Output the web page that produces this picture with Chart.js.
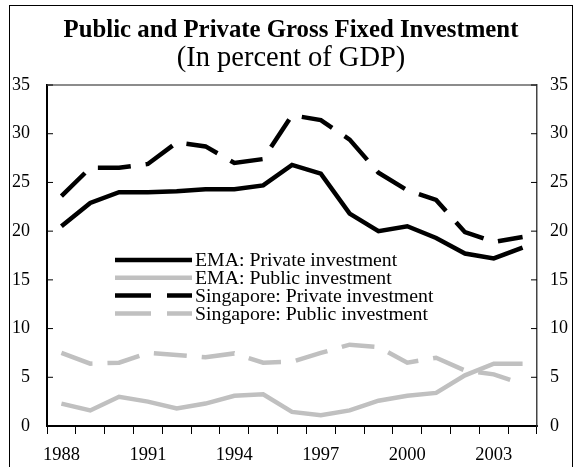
<!DOCTYPE html>
<html><head><meta charset="utf-8">
<script src="https://cdn.jsdelivr.net/npm/chart.js@4.4.0/dist/chart.umd.min.js"></script>
<style>
html,body{margin:0;padding:0;background:#fff;overflow:hidden}
#wrap{position:relative;width:582px;height:467px;overflow:hidden}
#frame{position:absolute;left:9px;top:5px;width:564px;height:520px;border:1.5px solid #000;box-sizing:border-box}
canvas{position:absolute;left:0;top:0}
</style></head><body>
<div id="wrap"><div id="frame"></div><canvas id="c" width="582" height="467"></canvas></div>
<script>
const years = ['1988','1989','1990','1991','1992','1993','1994','1995','1996','1997','1998','1999','2000','2001','2002','2003','2004'];
const emaPrivate = [20.5, 22.9, 24.0, 24.0, 24.1, 24.3, 24.3, 24.7, 26.8, 25.9, 21.8, 20.0, 20.5, 19.3, 17.7, 17.2, 18.3];
const emaPublic  = [2.3, 1.6, 3.0, 2.5, 1.8, 2.3, 3.1, 3.25, 1.45, 1.1, 1.6, 2.6, 3.1, 3.4, 5.2, 6.4, 6.4];
const sgPrivate  = [23.6, 26.5, 26.5, 26.9, 29.1, 28.7, 27.0, 27.4, 31.9, 31.4, 29.4, 26.0, 24.2, 23.2, 19.9, 18.9, 19.4];
const sgPublic   = [7.5, 6.4, 6.5, 7.5, 7.3, 7.05, 7.45, 6.5, 6.6, 7.5, 8.35, 8.1, 6.5, 7.0, 5.7, 5.3, 4.3];
const seriesLabels = ['EMA: Private investment','EMA: Public investment','Singapore: Private investment','Singapore: Public investment'];
const titleText = 'Public and Private Gross Fixed Investment';
const subtitleText = '(In percent of GDP)';

const SERIF = '"Liberation Serif", "Times New Roman", serif';
const GRAY = '#c0c0c0';

const extras = {
  id: 'extras',
  afterDraw(chart) {
    const {ctx, chartArea: a, scales} = chart;
    ctx.save();
    ctx.strokeStyle = '#666';
    ctx.lineWidth = 1.5;
    ctx.beginPath(); ctx.moveTo(a.left, a.top); ctx.lineTo(a.right, a.top); ctx.stroke();
    ctx.strokeStyle = '#000';
    ctx.lineWidth = 1;
    scales.y.ticks.forEach(t => {
      const py = scales.y.getPixelForValue(t.value);
      ctx.beginPath(); ctx.moveTo(a.left, py); ctx.lineTo(a.left + 6, py); ctx.stroke();
    });
    scales.y2.ticks.forEach(t => {
      const py = scales.y2.getPixelForValue(t.value);
      ctx.beginPath(); ctx.moveTo(a.right, py); ctx.lineTo(a.right - 6, py); ctx.stroke();
    });
    ctx.restore();
  },
  afterDatasetsDraw(chart) {
    const {ctx, chartArea: a} = chart;
    chart.data.datasets.forEach((ds, i) => {
      const y = a.top + 175 + i * 17.8;
      ctx.save();
      ctx.strokeStyle = ds.borderColor;
      ctx.lineWidth = 4.5;
      ctx.setLineDash(ds.borderDash && ds.borderDash.length ? [36, 16] : []);
      ctx.beginPath(); ctx.moveTo(a.left + 68, y); ctx.lineTo(a.left + 145, y); ctx.stroke();
      ctx.setLineDash([]);
      ctx.fillStyle = '#000';
      ctx.font = '19.8px ' + SERIF;
      ctx.textBaseline = 'middle';
      ctx.fillText(ds.label, a.left + 148, y + 1);
      ctx.restore();
    });
  }
};

new Chart(document.getElementById('c'), {
  type: 'line',
  data: {
    labels: years,
    datasets: [
      {label: seriesLabels[0], data: emaPrivate, borderColor: '#000', borderWidth: 4.5, borderDash: []},
      {label: seriesLabels[1], data: emaPublic, borderColor: GRAY, borderWidth: 4.5, borderDash: []},
      {label: seriesLabels[2], data: sgPrivate, borderColor: '#000', borderWidth: 4.5, borderDash: [33, 15]},
      {label: seriesLabels[3], data: sgPublic, borderColor: GRAY, borderWidth: 4.5, borderDash: [33, 15]}
    ]
  },
  options: {
    responsive: false,
    animation: false,
    devicePixelRatio: 1,
    elements: {point: {radius: 0}, line: {tension: 0, borderCapStyle: 'butt', borderJoinStyle: 'miter'}},
    layout: {padding: {left: 10, right: 10, top: 0, bottom: 0}},
    plugins: {
      legend: {display: false},
      tooltip: {enabled: false},
      title: {display: true, text: titleText, color: '#000', font: {family: SERIF, size: 24.8, weight: 'bold', lineHeight: 1.15}, padding: {top: 16, bottom: 0}},
      subtitle: {display: true, text: subtitleText, color: '#000', font: {family: SERIF, size: 28.5, weight: 'normal', lineHeight: 1.0}, padding: {top: 0, bottom: 12}}
    },
    scales: {
      x: {
        type: 'category',
        offset: true,
        grid: {offset: true, drawOnChartArea: false, drawTicks: true, tickLength: 8, color: '#000', lineWidth: 1},
        border: {display: true, color: '#000', width: 2},
        ticks: {autoSkip: false, maxRotation: 0, padding: 10, color: '#000', font: {family: SERIF, size: 18.5},
          callback: function(v, i) { return i % 3 === 0 ? years[i] : ''; }},
        afterFit: s => { s.height = 41; }
      },
      y: {
        position: 'left', min: 0, max: 35,
        grid: {display: false, drawTicks: false},
        border: {display: true, color: '#000', width: 2},
        ticks: {stepSize: 5, padding: 17, color: '#000', font: {family: SERIF, size: 18}},
        afterFit: s => { s.width = 37; }
      },
      y2: {
        position: 'right', min: 0, max: 35,
        grid: {display: false, drawTicks: false},
        border: {display: true, color: '#444', width: 1.5},
        ticks: {stepSize: 5, padding: 13, color: '#000', font: {family: SERIF, size: 18}},
        afterFit: s => { s.width = 35; }
      }
    }
  },
  plugins: [extras]
});
</script>
</body></html>
